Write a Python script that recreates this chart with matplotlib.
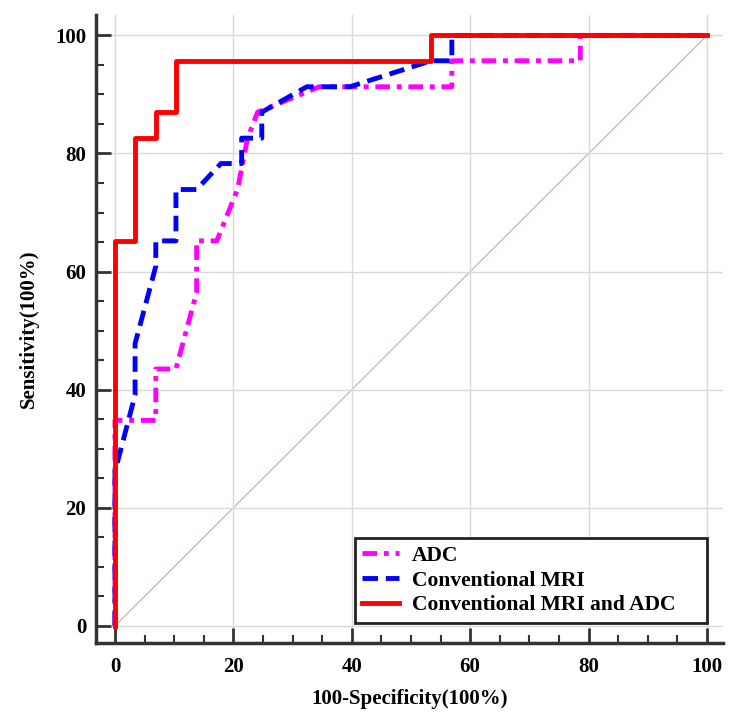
"""ROC curves: ADC, conventional MRI and the combination."""

import matplotlib
matplotlib.use("Agg")
import matplotlib.pyplot as plt
from matplotlib.ticker import MultipleLocator

# ROC operating points (100-specificity, sensitivity), in %
adc_fpr = [0, 0, 6.9, 6.9, 10.3, 13.8, 13.8, 17.2, 20.7, 22.4, 24.1, 34.5,
           56.9, 56.9, 78.6, 78.6, 100]
adc_tpr = [0, 34.8, 34.8, 43.5, 43.5, 56.5, 65.2, 65.2, 73.9, 82.6, 87.0, 91.3,
           91.3, 95.7, 95.7, 100, 100]

mri_fpr = [0, 0, 3.4, 3.4, 6.9, 6.9, 10.3, 10.3, 13.8, 17.9, 21.4, 21.4, 24.8,
           24.8, 32.4, 39.7, 53.4, 56.9, 56.9, 100]
mri_tpr = [0, 26.1, 39.1, 47.8, 60.9, 65.2, 65.2, 73.9, 73.9, 78.3, 78.3, 82.6,
           82.6, 87.0, 91.3, 91.3, 95.7, 95.7, 100, 100]

comb_fpr = [0, 0, 3.4, 3.4, 6.9, 6.9, 10.3, 10.3, 53.4, 53.4, 100]
comb_tpr = [0, 65.2, 65.2, 82.6, 82.6, 87.0, 87.0, 95.7, 95.7, 100, 100]

labels = ["ADC", "Conventional MRI", "Conventional MRI and ADC"]
ticks = [0, 20, 40, 60, 80, 100]

plt.rcParams["font.family"] = ["Liberation Serif", "DejaVu Serif"]
plt.rcParams["font.weight"] = "bold"

fig = plt.figure(figsize=(7.5, 7.19), dpi=100)
ax = fig.add_axes([0.128, 0.1057, 0.836, 0.873])

ax.plot([0, 100], [0, 100], color="#c8a8a8", lw=0.8, zorder=1)
ax.plot(adc_fpr, adc_tpr, color="#ff00ff", lw=3.5, ls=(0, (3, 1.4, 1, 1.4)),
        label=labels[0], zorder=3)
ax.plot(mri_fpr, mri_tpr, color="#0000ff", lw=3.5, ls=(0, (3.2, 1.6)),
        label=labels[1], zorder=3)
ax.plot(comb_fpr, comb_tpr, color="#ff0000", lw=3.5, label=labels[2], zorder=4)

ax.set_xlim(-3.2, 102.7)
ax.set_ylim(-2.9, 103.4)
ax.set_xticks(ticks)
ax.set_yticks(ticks)
ax.xaxis.set_minor_locator(MultipleLocator(5))
ax.yaxis.set_minor_locator(MultipleLocator(5))
ax.grid(True, which="major", color="#d9d9d9", lw=1, zorder=0)

for side in ["top", "right"]:
    ax.spines[side].set_visible(False)
for side in ["left", "bottom"]:
    ax.spines[side].set_linewidth(2.5)
    ax.spines[side].set_color("#333333")

ax.tick_params(which="major", direction="in", length=11, width=2,
               color="#333333", labelsize=15)
ax.tick_params(which="minor", direction="in", length=6, width=1.5,
               color="#333333")
ax.tick_params(axis="y", which="major", pad=7)
ax.tick_params(axis="x", which="major", pad=10)
for lbl in ax.get_xticklabels() + ax.get_yticklabels():
    lbl.set_fontweight("bold")

ax.set_xlabel("100-Specificity(100%)", fontsize=15, fontweight="bold", labelpad=9)
ax.set_ylabel("Sensitivity(100%)", fontsize=15, fontweight="bold", labelpad=12)

leg = ax.legend(loc="lower left", bbox_to_anchor=(40.5, 0.5, 59.5, 20),
                bbox_transform=ax.transData, mode="expand", fontsize=15.5,
                handlelength=1.7, handletextpad=0.6, frameon=True,
                fancybox=False, borderaxespad=0, labelspacing=0.22,
                borderpad=0.35)
leg.get_frame().set_edgecolor("#222222")
leg.get_frame().set_linewidth(2)
leg.get_frame().set_alpha(1)
for t in leg.get_texts():
    t.set_fontweight("bold")

fig.savefig("out.png", dpi=100)
